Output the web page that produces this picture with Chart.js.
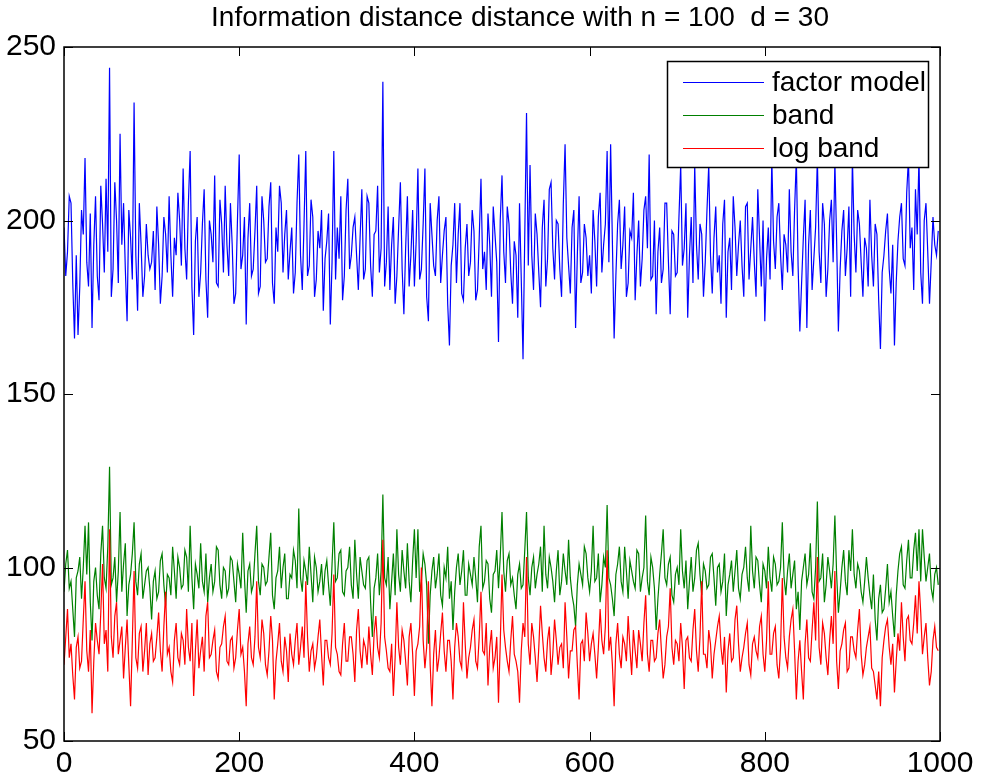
<!DOCTYPE html>
<html lang="en">
<head>
    <meta charset="UTF-8">
    <title>Information distance</title>
    <script src="https://cdn.jsdelivr.net/npm/chart.js"></script>
    <style>
        body { margin: 0; background: #fff; }
        #wrap { width: 982px; height: 781px; }
    </style>
</head>
<body>
    <div id="wrap"><canvas id="distChart"></canvas></div>

    <script>
        // one value every 2 steps of the x axis
        const step = 2;
        const xTicks = [0, 200, 400, 600, 800, 1000];
        const yTicks = [50, 100, 150, 200, 250];
        const seriesNames = ['factor model', 'band', 'log band'];

        const factorModel = [
            198,184,191,207,205,182,166,190,167,181,203,196,218,188,181,202,169,193,207,184,177,210,199,185,212,191,244,178,186,211,200,182,225,193,205,186,171,203,195,183,234,190,174,205,193,178,184,199,190,186,
            188,197,180,204,193,176,184,201,196,185,207,190,178,195,190,208,200,187,215,192,183,205,220,181,167,194,201,178,185,199,209,183,172,200,196,188,213,182,181,206,199,185,210,193,184,205,193,176,179,200,
            219,186,190,201,170,195,205,184,186,197,210,179,181,207,200,188,189,204,211,182,176,198,191,210,205,185,196,203,183,191,198,179,185,205,219,190,180,199,220,184,187,206,201,178,183,197,192,203,174,189,
            194,202,170,188,220,183,198,189,207,177,184,203,212,186,190,198,201,190,180,195,209,183,186,207,205,187,178,196,197,210,185,192,240,181,188,204,180,193,201,176,184,198,211,186,173,192,207,181,190,203,
            181,194,215,183,186,199,215,178,171,205,196,187,184,200,207,182,190,197,201,176,164,187,193,205,182,196,205,179,177,192,199,184,188,203,197,177,180,195,212,186,191,180,202,193,178,204,196,188,165,200,
            213,191,182,204,199,185,176,194,190,172,205,183,160,196,231,187,216,190,180,202,196,185,175,198,206,181,189,209,211,192,183,200,199,186,178,205,222,195,187,179,198,203,169,190,207,182,185,199,195,184,
            190,179,203,194,181,201,208,185,193,199,220,188,222,194,166,184,199,206,186,193,204,178,182,197,195,208,177,190,200,181,189,203,207,192,219,183,184,200,173,191,198,182,186,205,205,188,173,197,196,184,
            185,201,216,187,192,205,172,190,201,182,216,193,183,199,196,178,188,203,216,190,179,195,204,185,190,176,199,206,172,191,195,180,207,198,184,193,200,187,178,204,205,183,192,201,188,178,209,195,181,200,
            171,189,198,183,218,194,186,201,205,190,180,196,193,185,209,191,184,203,218,187,168,182,195,206,169,193,203,180,189,198,218,191,182,205,199,178,186,200,206,188,217,194,168,186,197,203,184,192,204,178,
            218,196,185,203,199,188,178,195,192,181,206,190,181,199,196,177,163,185,190,197,202,186,179,193,164,182,194,201,205,189,187,208,218,192,198,180,209,196,218,185,176,200,205,191,176,188,201,193,190,197
        ];

        const band = [
            93,101,105,94,96,88,80,97,99,103,91,100,112,98,113,90,79,96,100,92,88,104,112,97,94,106,129,95,97,103,90,99,116,93,101,107,86,95,98,104,113,96,92,101,104,91,95,99,100,94,
            85,96,99,91,93,102,104,95,89,98,97,92,106,99,91,103,100,94,95,105,103,93,112,97,88,101,98,94,107,96,93,104,90,97,101,93,96,106,105,95,91,100,99,92,94,103,102,96,90,101,
            98,94,110,97,87,99,101,93,95,104,112,96,92,101,100,95,96,103,110,92,88,97,99,106,94,100,104,91,91,98,97,105,102,94,117,97,93,102,99,95,106,98,90,103,100,93,96,101,92,99,
            102,95,89,101,113,96,97,104,105,93,92,99,100,106,95,91,108,98,91,103,99,95,94,102,103,90,80,94,97,104,92,99,121,97,95,103,88,96,104,92,111,98,93,105,99,94,107,96,90,102,
            111,97,111,93,96,104,101,95,78,92,99,103,94,98,104,92,89,100,97,106,91,96,82,93,100,104,95,99,105,92,92,101,98,95,103,97,90,106,112,94,96,102,101,91,87,98,99,105,94,103,
            116,99,93,102,104,95,97,92,88,98,101,94,95,105,116,97,92,100,103,94,98,101,106,93,112,98,94,103,100,96,90,99,105,92,96,104,99,95,108,97,92,89,83,95,101,98,95,106,104,97,
            93,99,112,96,97,104,90,95,103,100,118,97,95,91,86,98,101,106,96,93,106,99,91,102,99,96,94,105,104,93,97,100,115,96,92,103,100,94,82,91,98,104,111,97,95,101,103,92,90,98,
            100,95,111,99,94,102,88,96,103,93,97,105,107,98,92,101,99,94,95,103,104,97,89,100,101,93,96,104,86,95,98,102,93,99,105,94,91,98,100,106,97,93,112,99,94,103,102,95,90,101,
            99,94,106,97,93,103,101,95,96,100,113,97,92,99,104,94,98,102,88,93,82,96,100,104,95,98,107,93,91,100,119,96,97,104,90,95,103,99,94,101,115,98,87,93,100,105,96,92,105,99,
            111,98,94,101,99,93,90,96,103,97,92,88,98,85,79,91,95,87,88,94,101,90,93,86,80,92,99,104,106,95,94,102,108,97,97,105,110,99,111,96,111,103,96,100,104,94,91,98,100,95
        ];

        const logBand = [
            72,80,88,74,78,69,62,77,80,71,73,85,96,76,70,82,58,73,84,79,75,87,101,78,82,70,111,80,74,86,90,75,79,83,68,77,85,72,60,79,99,74,71,81,83,70,76,84,69,78,
            81,73,74,80,87,76,70,83,93,75,77,70,67,79,84,74,72,81,79,72,88,77,73,84,63,76,85,71,76,80,70,86,90,74,75,79,82,70,68,77,78,83,86,73,72,79,80,71,74,82,
            88,75,77,70,60,78,83,74,72,80,96,77,74,85,81,72,69,76,86,79,62,73,78,84,73,70,80,76,67,81,75,72,79,84,72,77,83,74,96,80,70,76,78,71,74,80,85,75,66,79,
            79,74,72,81,98,77,75,70,69,78,84,73,73,80,80,75,67,82,88,76,71,79,77,72,83,75,69,81,86,77,74,84,108,80,76,71,70,78,63,74,90,77,72,82,79,73,66,80,84,75,
            63,76,78,83,100,79,71,77,96,72,60,75,82,70,74,81,87,76,70,79,79,73,62,77,84,80,73,71,90,78,68,74,77,82,85,73,71,80,93,76,75,84,66,77,82,71,74,80,61,78,
            98,82,77,73,70,79,86,75,73,70,61,76,84,80,103,78,72,84,80,74,67,77,89,81,74,70,79,83,69,75,85,79,72,77,78,71,90,80,68,76,76,82,83,72,62,78,79,73,87,81,
            73,78,81,75,68,77,88,79,75,83,105,76,80,72,60,78,84,75,71,80,78,73,86,77,69,82,76,71,82,78,73,84,92,75,70,79,79,73,74,81,85,76,68,72,80,83,94,77,72,79,
            78,73,84,77,65,79,80,74,73,82,88,76,70,80,96,75,75,71,82,78,68,75,79,83,86,77,72,80,64,76,81,73,74,85,89,78,70,74,77,81,84,72,69,78,80,76,74,83,86,75,
            70,79,96,75,75,81,83,72,68,77,97,80,74,71,80,85,88,76,62,73,79,70,62,78,85,74,73,82,90,79,103,77,72,84,81,74,69,79,86,78,99,73,65,76,78,82,84,70,71,80,
            80,76,74,82,88,75,69,72,77,80,83,71,70,66,62,70,60,74,79,83,85,77,72,78,64,73,81,76,90,80,73,85,86,79,78,84,92,81,96,87,75,80,84,74,66,70,79,83,77,76
        ];

        const FONT = '"Liberation Sans", Arial, Helvetica, sans-serif';

        function toPoints(values) {
            return values.map((v, i) => ({ x: i * step, y: v }));
        }

        // box, inward ticks, title and legend like the matlab figure
        const matlabFrame = {
            id: 'matlabFrame',
            afterDatasetsDraw(chart) {
                const ctx = chart.ctx;
                const a = chart.chartArea;
                const xs = chart.scales.x;
                const ys = chart.scales.y;
                const tick = 9;

                ctx.save();
                ctx.strokeStyle = '#000';
                ctx.lineWidth = 1;
                ctx.beginPath();
                xTicks.forEach(t => {
                    const px = Math.round(xs.getPixelForValue(t)) + 0.5;
                    ctx.moveTo(px, a.bottom);
                    ctx.lineTo(px, a.bottom - tick);
                    ctx.moveTo(px, a.top);
                    ctx.lineTo(px, a.top + tick);
                });
                yTicks.forEach(t => {
                    const py = Math.round(ys.getPixelForValue(t)) + 0.5;
                    ctx.moveTo(a.left, py);
                    ctx.lineTo(a.left + tick, py);
                    ctx.moveTo(a.right, py);
                    ctx.lineTo(a.right - tick, py);
                });
                ctx.stroke();

                ctx.lineWidth = 1.5;
                ctx.strokeRect(a.left, a.top, a.right - a.left, a.bottom - a.top);

                // title
                ctx.fillStyle = '#000';
                ctx.font = '28px ' + FONT;
                ctx.textAlign = 'center';
                ctx.textBaseline = 'middle';
                ctx.fillText('Information distance distance with n = 100  d = 30', 520, 18);

                // legend
                const lx = 667, ly = 61, lw = 261, lh = 106;
                ctx.fillStyle = '#fff';
                ctx.fillRect(lx, ly, lw, lh);
                ctx.lineWidth = 1.5;
                ctx.strokeStyle = '#000';
                ctx.strokeRect(lx + 0.5, ly + 0.5, lw, lh);

                ctx.font = '28px ' + FONT;
                ctx.textAlign = 'left';
                chart.data.datasets.forEach((ds, i) => {
                    const y = 82 + i * 33;
                    ctx.strokeStyle = ds.borderColor;
                    ctx.lineWidth = 1;
                    ctx.beginPath();
                    ctx.moveTo(683, y + 0.5);
                    ctx.lineTo(764, y + 0.5);
                    ctx.stroke();
                    ctx.fillStyle = '#000';
                    ctx.fillText(ds.label, 772, y + 1);
                });
                ctx.restore();
            }
        };

        const config = {
            type: 'line',
            data: {
                datasets: [
                    { label: seriesNames[0], data: toPoints(factorModel), borderColor: '#0000ff', order: 3 },
                    { label: seriesNames[1], data: toPoints(band), borderColor: '#008000', order: 2 },
                    { label: seriesNames[2], data: toPoints(logBand), borderColor: '#ff0000', order: 1 }
                ]
            },
            options: {
                responsive: true,
                maintainAspectRatio: false,
                devicePixelRatio: 1,
                animation: false,
                layout: { padding: { top: 47, right: 42, left: 0, bottom: 0 } },
                elements: {
                    line: { borderWidth: 1.2, tension: 0 },
                    point: { radius: 0 }
                },
                plugins: {
                    legend: { display: false },
                    title: { display: false },
                    tooltip: { enabled: false }
                },
                scales: {
                    x: {
                        type: 'linear',
                        min: 0,
                        max: 1000,
                        grid: { display: false, drawTicks: false },
                        border: { display: false },
                        afterBuildTicks: s => { s.ticks = xTicks.map(v => ({ value: v })); },
                        afterFit: s => { s.height = 40; },
                        ticks: { color: '#000', padding: 5, maxRotation: 0, callback: v => String(v), font: { family: FONT, size: 30 } }
                    },
                    y: {
                        min: 50,
                        max: 250,
                        grid: { display: false, drawTicks: false },
                        border: { display: false },
                        afterBuildTicks: s => { s.ticks = yTicks.map(v => ({ value: v })); },
                        afterFit: s => { s.width = 64; },
                        ticks: { color: '#000', padding: 8, callback: v => String(v), font: { family: FONT, size: 30 } }
                    }
                }
            },
            plugins: [matlabFrame]
        };

        new Chart(document.getElementById('distChart'), config);
    </script>
</body>
</html>
